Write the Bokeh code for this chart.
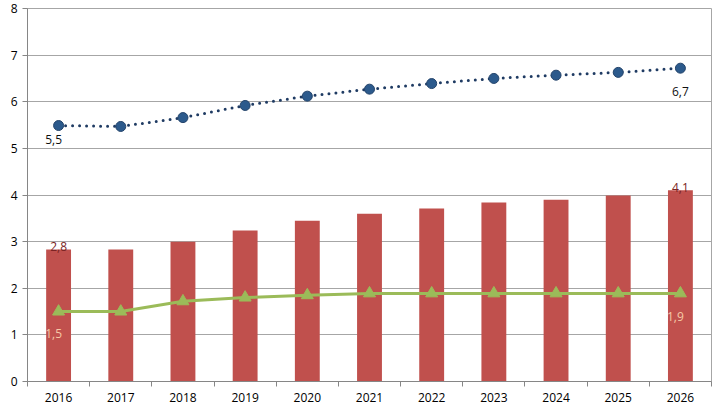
from bokeh.plotting import figure
from bokeh.models import Range1d, FixedTicker, ColumnDataSource
from bokeh.core.properties import value
from bokeh.embed import file_html
from bokeh.resources import INLINE

years = [2016, 2017, 2018, 2019, 2020, 2021, 2022, 2023, 2024, 2025, 2026]
bars = [2.83, 2.83, 3.0, 3.24, 3.45, 3.6, 3.71, 3.84, 3.9, 3.99, 4.1]
blue = [5.49, 5.47, 5.66, 5.92, 6.12, 6.27, 6.39, 6.5, 6.57, 6.63, 6.72]
green = [1.5, 1.5, 1.72, 1.8, 1.85, 1.89, 1.89, 1.89, 1.89, 1.89, 1.89]
y_ticks = [0, 1, 2, 3, 4, 5, 6, 7, 8]

FONT = "Open Sans"

p = figure(width=714, height=404, output_backend="svg", toolbar_location=None,
           x_range=Range1d(years[0] - 0.5, years[-1] + 0.5), y_range=Range1d(0, 8),
           min_border_left=27, min_border_right=3, min_border_top=8, min_border_bottom=23)
p.outline_line_color = "#A6A6A6"
p.background_fill_color = "white"

p.xaxis.ticker = FixedTicker(ticks=years, minor_ticks=[y - 0.5 for y in years] + [years[-1] + 0.5])
p.yaxis.ticker = FixedTicker(ticks=y_ticks)
p.xgrid.grid_line_color = None
p.ygrid.grid_line_color = "#A6A6A6"
p.ygrid.grid_line_width = 1
for ax in (p.xaxis[0], p.yaxis[0]):
    ax.axis_line_color = "#868686"
    ax.major_label_text_font = FONT
    ax.major_label_text_font_size = "12px"
    ax.major_label_text_color = "#000000"
    ax.major_tick_line_color = "#868686"
    ax.minor_tick_line_color = "#868686"
    ax.major_tick_in = 0
    ax.minor_tick_in = 0
p.xaxis.major_tick_out = 0
p.xaxis.minor_tick_out = 5
p.xaxis.major_label_standoff = 6
p.yaxis.major_tick_out = 5
p.yaxis.minor_tick_out = 0
p.yaxis.major_label_standoff = 5

src = ColumnDataSource(dict(x=years, bars=bars, blue=blue, green=green))

p.vbar(x="x", top="bars", width=0.4, source=src, fill_color="#C0504D", line_color=None)

p.line("x", "green", source=src, line_color="#9BBB59", line_width=3)
p.scatter("x", "green", source=src, marker="triangle", size=12,
          fill_color="#9BBB59", line_color="#9BBB59")

p.line("x", "blue", source=src, line_color="#1F3B63", line_width=3,
       line_dash="0 7", line_cap="round")
p.scatter("x", "blue", source=src, marker="circle", size=10,
          fill_color="#2C5A8C", line_color="#24446B")

# data labels
p.text(x=[years[0], years[-1]], y=[blue[0], blue[-1]],
       text=[f"{blue[0]:.1f}".replace(".", ","), f"{blue[-1]:.1f}".replace(".", ",")],
       x_offset=[-5, 0], y_offset=[14, 23], text_align="center", text_baseline="middle",
       text_font=value(FONT), text_font_size="12px", text_color="#111111")
p.text(x=[years[0], years[-1]], y=[bars[0], bars[-1]],
       text=[f"{bars[0]:.1f}".replace(".", ","), f"{bars[-1]:.1f}".replace(".", ",")],
       y_offset=[-3, -3], text_align="center", text_baseline="middle",
       text_font=value(FONT), text_font_size="12px", text_color="#7A2323")
p.text(x=[years[0], years[-1]], y=[green[0], green[-1]],
       text=[f"{green[0]:.1f}".replace(".", ","), f"{green[-1]:.1f}".replace(".", ",")],
       x_offset=[-5, -5], y_offset=[22, 23], text_align="center", text_baseline="middle",
       text_font=value(FONT), text_font_size="12px", text_color="#F6C9A6")

open("out.html", "w").write(file_html(p, INLINE))
